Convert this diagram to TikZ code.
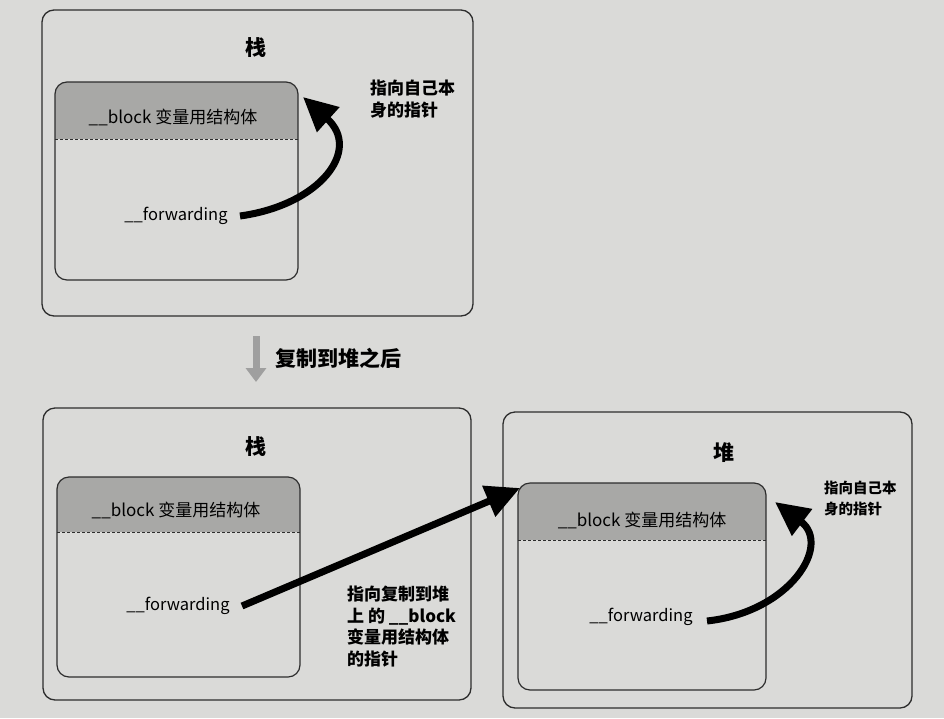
\documentclass[tikz,border=0pt]{standalone}
\usepackage{fontspec}
\setmainfont{Noto Sans CJK SC}
\usetikzlibrary{arrows.meta}
\definecolor{bg}{RGB}{218,218,216}
\definecolor{hdr}{RGB}{168,168,166}
\definecolor{ln}{RGB}{45,45,45}
\begin{document}
\begin{tikzpicture}[x=1pt,y=-1pt,
  outerbox/.style={draw=ln,line width=1.3pt,rounded corners=12pt},
  innerbox/.style={draw=ln,line width=1.2pt,rounded corners=12pt},
  title/.style={font=\fontsize{21}{23}\selectfont\bfseries},
  hdrtext/.style={font=\fontsize{17}{19}\selectfont},
  fwd/.style={font=\fontsize{16.5}{18}\selectfont},
  note/.style={font=\fontsize{17}{21.5}\selectfont\bfseries,align=left,anchor=north west,inner sep=0pt},
  smallnote/.style={font=\fontsize{14.5}{21}\selectfont\bfseries,align=left,anchor=north west,inner sep=0pt},
  bigarrow/.style={line width=7pt,-{Triangle[length=34pt,width=32pt]}},
  sep/.style={ln,dash pattern=on 3pt off 2pt,line width=0.9pt},
]
\fill[bg] (0,0) rectangle (944,718);
\useasboundingbox (0,0) rectangle (944,718);

% ---------- top: stack ----------
\draw[outerbox] (42,10) rectangle (473,316);
\node[title] (t1) at (256,48) {栈};
\begin{scope}
\clip[rounded corners=12pt] (55,82) rectangle (298,280);
\fill[hdr] (55,82) rectangle (298,139);
\end{scope}
\draw[sep] (55,139) -- (298,139);
\draw[innerbox] (55,82) rectangle (298,280);
\node[hdrtext] (h1) at (173,117) {\_\_block 变量用结构体};
\node[fwd] (f1) at (176,216) {\_\_forwarding};
\coordinate (s1) at (240,216);
\coordinate (e1) at (303,97);
\draw[bigarrow] (s1) .. controls (320,205) and (362,150) .. (e1);
\node[note] (n1) at (370,80) {指向自己本\\身的指针};

% ---------- middle ----------
\coordinate (da) at (256,336);
\coordinate (db) at (256,382);
\draw[gray!75,line width=7pt,-{Triangle[length=14pt,width=20pt]}] (da) -- (db);
\node[font=\fontsize{21}{23}\selectfont\bfseries,anchor=west] (mid) at (272,358) {复制到堆之后};

% ---------- bottom left: stack ----------
\draw[outerbox] (43,408) rectangle (471,700);
\node[title] (t2) at (256,447) {栈};
\begin{scope}
\clip[rounded corners=12pt] (57,477) rectangle (300,677);
\fill[hdr] (57,477) rectangle (300,532);
\end{scope}
\draw[sep] (57,532) -- (300,532);
\draw[innerbox] (57,477) rectangle (300,677);
\node[hdrtext] (h2) at (176,510) {\_\_block 变量用结构体};
\node[fwd] (f2) at (178,606) {\_\_forwarding};

% ---------- bottom right: heap ----------
\draw[outerbox] (503,412) rectangle (912,708);
\node[title] (t3) at (724,453) {堆};
\begin{scope}
\clip[rounded corners=12pt] (518,483) rectangle (766,690);
\fill[hdr] (518,483) rectangle (766,540);
\end{scope}
\draw[sep] (518,540) -- (766,540);
\draw[innerbox] (518,483) rectangle (766,690);
\node[hdrtext] (h3) at (642,520) {\_\_block 变量用结构体};
\node[fwd] (f3) at (641,617) {\_\_forwarding};
\coordinate (s3) at (707,621);
\coordinate (e3) at (775,502);
\draw[bigarrow] (s3) .. controls (790,612) and (832,545) .. (e3);
\node[smallnote] (n3) at (824,481) {指向自己本\\身的指针};

% cross arrow
\coordinate (s2) at (242,606);
\coordinate (e2) at (520,488);
\draw[bigarrow] (s2) -- (e2);
\node[note] (n2) at (347,586) {指向复制到堆\\上 的 \_\_block\\变量用结构体\\的指针};
\end{tikzpicture}
\end{document}
